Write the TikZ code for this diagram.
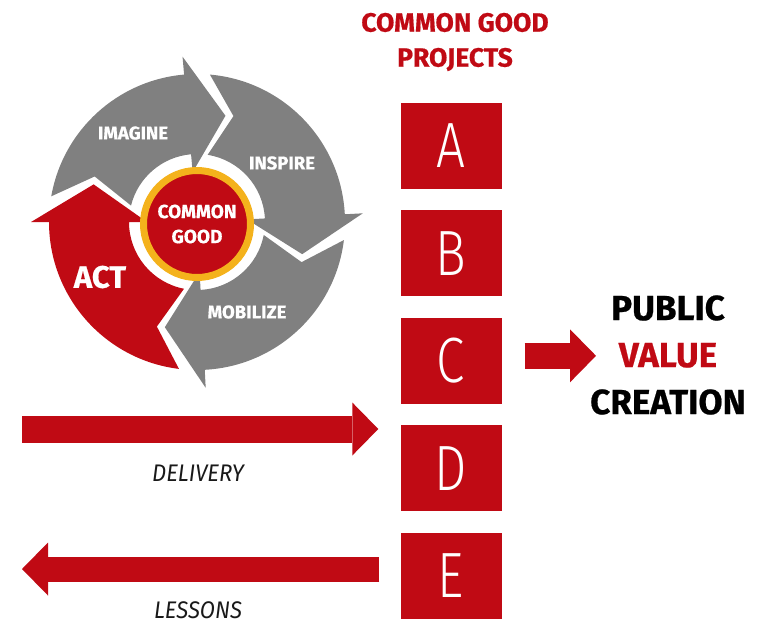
\documentclass[tikz,border=0pt]{standalone}
\usepackage{fontspec}
\setmainfont{Fira Sans}
\newfontfamily\condfont[FakeStretch=0.8]{Fira Sans}
\newfontfamily\heavyfont[FakeBold=0.6]{Fira Sans}
\newfontfamily\thinfont[FakeStretch=0.8,UprightFont={* Light},ItalicFont={* Light Italic}]{Fira Sans}
\newfontfamily\capfont[FakeStretch=0.92]{Fira Sans}
\usetikzlibrary{positioning,arrows.meta}
\definecolor{cgred}{RGB}{192,10,20}
\definecolor{cggray}{RGB}{128,128,128}
\definecolor{cgorange}{RGB}{244,178,28}

\begin{document}
\begin{tikzpicture}[x=1pt, y=1pt, node distance=21pt,
  project/.style={rectangle, fill=cgred, text=white, minimum width=101pt, minimum height=86pt, inner sep=0pt, font=\thinfont\fontsize{64}{64}\selectfont},
  bigarrow/.style={draw=cgred, line width=27pt, -{Triangle[length=26pt,width=53pt,line width=0pt]}},
  steplabel/.style={text=white, inner sep=0pt, font=\heavyfont\bfseries\fontsize{18.5}{18.5}\selectfont},
  caption/.style={text=black!90, inner sep=0pt, font=\capfont\itshape\fontsize{24}{24}\selectfont}]
  \useasboundingbox (0,0) rectangle (760,-625);

  % Cycle
  \begin{scope}[shift={(197,-222)}]
    \fill[cggray] (170:148) arc[start angle=170, end angle=95, radius=148] -- (95:166) -- (75:110) -- (95:50) -- (95:68) arc[start angle=95, end angle=166, radius=68] -- (156:112) -- cycle;
    \fill[cggray] (85:148) arc[start angle=85, end angle=3, radius=148] -- (3:166) -- (-17:110) -- (3:50) -- (3:68) arc[start angle=3, end angle=81, radius=68] -- (71:112) -- cycle;
    \fill[cggray] (-7:148) arc[start angle=-7, end angle=-87, radius=148] -- (-87:166) -- (-107:110) -- (-87:50) -- (-87:68) arc[start angle=-87, end angle=-11, radius=68] -- (-21:112) -- cycle;
    \fill[cgred] (-97:148) arc[start angle=-97, end angle=-180, radius=148] -- (-180:166) -- (-200:110) -- (-180:50) -- (-180:68) arc[start angle=-180, end angle=-101, radius=68] -- (-111:112) -- cycle;
  \end{scope}
  \node[circle, fill=cgred, draw=cgorange, line width=7pt, minimum size=107pt, inner sep=0pt, align=center, text=white, font=\heavyfont\bfseries\fontsize{19}{25}\selectfont] (core) at (197,-224) {COMMON\\GOOD};

  \node[steplabel] (imagine) at (133,-133) {IMAGINE};
  \node[steplabel] (inspire) at (282,-163) {INSPIRE};
  \node[steplabel] (mobilize) at (247,-312) {MOBILIZE};
  \node[steplabel, font=\heavyfont\bfseries\fontsize{31}{31}\selectfont] (act) at (100,-277) {ACT};

  % Projects
  \node[text=cgred, align=center, font=\heavyfont\bfseries\fontsize{26.5}{35}\selectfont] (title) at (455,-42) {COMMON GOOD\\PROJECTS};
  \node[project] (A) at (451,-146) {A};
  \node[project] (B) [below=of A] {B};
  \node[project] (C) [below=of B] {C};
  \node[project] (D) [below=of C] {D};
  \node[project] (E) [below=of D] {E};

  \node[align=center, inner sep=0pt, font=\heavyfont\bfseries\fontsize{35}{47}\selectfont] (pvc) at (668,-355) {PUBLIC\\\textcolor{cgred}{VALUE}\\CREATION};

  % Arrows
  \coordinate (dtail) at (22,-429);
  \coordinate (ltip) at (22,-569);
  \draw[bigarrow, shorten >=22pt] (dtail) -- (dtail -| D.west);
  \draw[bigarrow, line width=25pt, shorten <=21pt] (E.west |- ltip) -- (ltip);
  \draw[bigarrow, line width=26pt, shorten <=23pt, shorten >=-6pt] ([yshift=5pt]C.east) -- ([yshift=5pt]C.east -| pvc.west);

  \node[caption] (delivery) at (198,-473) {DELIVERY};
  \node[caption] (lessons) at (198,-610) {LESSONS};
\end{tikzpicture}
\end{document}
